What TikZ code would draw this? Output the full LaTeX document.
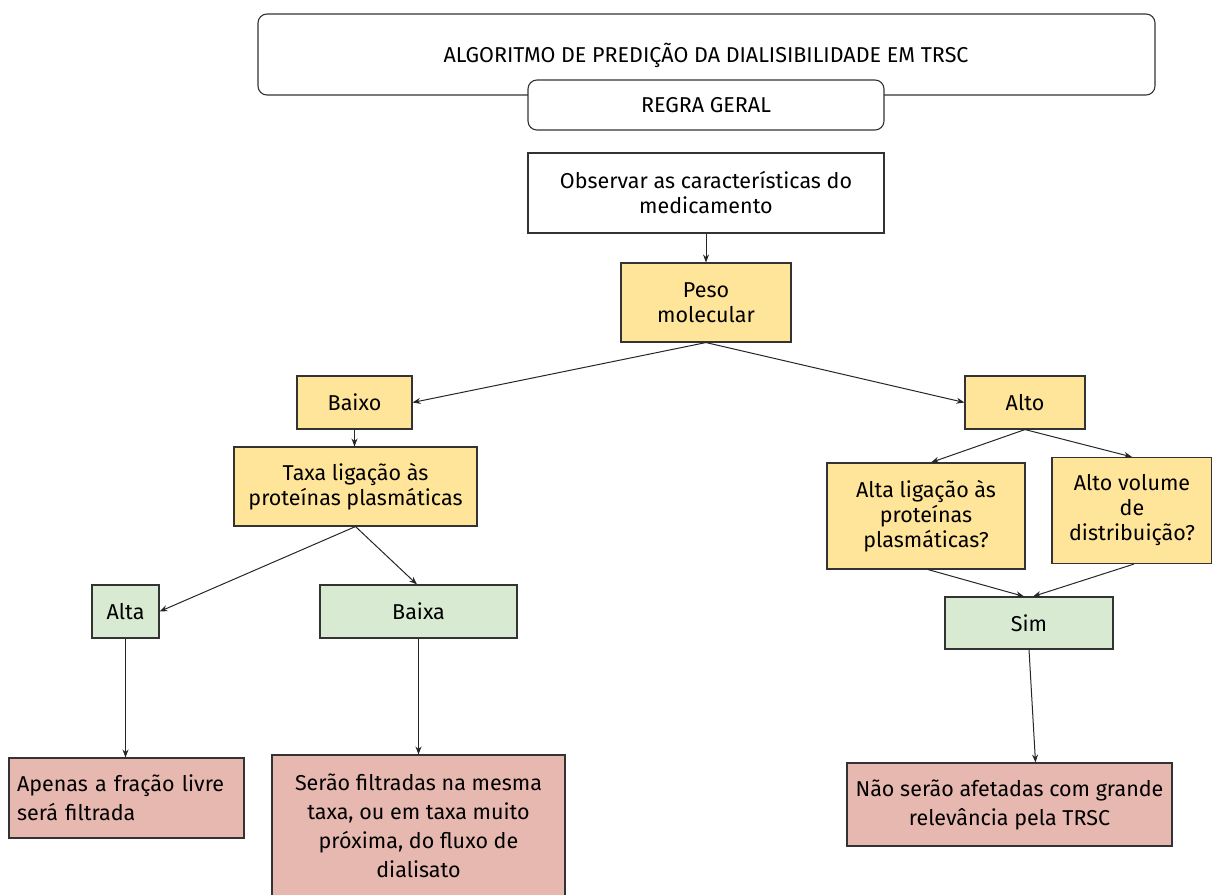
\documentclass[tikz,border=0pt]{standalone}
\usepackage{fontspec}
\setmainfont{Fira Sans}
\usetikzlibrary{arrows.meta}
\definecolor{yel}{HTML}{FFE599}
\definecolor{grn}{HTML}{D9EAD3}
\definecolor{rd}{HTML}{E6B8AF}
\definecolor{edge}{HTML}{333333}
\tikzset{
  box/.style={draw=edge, line width=1.1pt, inner sep=0pt, align=center,
    font=\fontsize{21.5}{25}\selectfont},
  ybox/.style={box, fill=yel},
  gbox/.style={box, fill=grn},
  rbox/.style={box, fill=rd, font=\fontsize{21.5}{29}\selectfont},
  rnd/.style={box, rounded corners=9pt, fill=white, font=\fontsize{21.5}{25}\selectfont},
  arr/.style={draw=black!85, line width=1pt, -{Stealth[length=8pt,width=6pt]}}
}
\begin{document}
\begin{tikzpicture}[x=1pt,y=-1pt]
\useasboundingbox (0,0) rectangle (1212,894);
% title
\node[rnd, minimum width=897pt, minimum height=81pt] (title) at (706.5,54.5) {};
\node[font=\fontsize{21.5}{25}\selectfont, inner sep=0pt] (titletext) at (706,55) {ALGORITMO DE PREDIÇÃO DA DIALISIBILIDADE EM TRSC};
\node[rnd, minimum width=356pt, minimum height=50pt] (regra) at (706,105) {REGRA GERAL};
% main
\node[box, fill=white, minimum width=356pt, minimum height=80pt] (obs) at (706,193) {Observar as características do\\medicamento};
\node[ybox, minimum width=170pt, minimum height=79pt] (peso) at (706,302.5) {Peso\\molecular};
\node[ybox, minimum width=115pt, minimum height=53pt] (baixo) at (354.5,402.5) {Baixo};
\node[ybox, minimum width=120pt, minimum height=53pt] (alto) at (1025,402.5) {Alto};
\node[ybox, minimum width=243pt, minimum height=79pt] (taxa) at (355.5,486.5) {Taxa ligação às\\proteínas plasmáticas};
\node[ybox, minimum width=198pt, minimum height=106pt] (altalig) at (926,516) {Alta ligação às\\proteínas\\plasmáticas?};
\node[ybox, minimum width=160pt, minimum height=106pt] (altovol) at (1132,510.5) {Alto volume\\de\\distribuição?};
\node[gbox, minimum width=67pt, minimum height=53pt] (alta) at (125.5,611.5) {Alta};
\node[gbox, minimum width=197pt, minimum height=53pt] (baixa) at (418.5,611.5) {Baixa};
\node[gbox, minimum width=168pt, minimum height=52pt] (sim) at (1029,623) {Sim};
\node[rbox, minimum width=235pt, minimum height=80pt, align=left, text width=219pt] (apenas) at (126.5,798) {Apenas a fração livre\\será filtrada};
\node[rbox, minimum width=293pt, minimum height=142pt] (serao) at (418.5,826) {Serão filtradas na mesma\\taxa, ou em taxa muito\\próxima, do fluxo de\\dialisato};
\node[rbox, minimum width=325pt, minimum height=83pt] (nao) at (1009.5,804.5) {Não serão afetadas com grande\\relevância pela TRSC};
% connectors
\draw[arr] (obs.south) -- (peso.north);
\draw[arr] (peso.south) -- (baixo.east);
\draw[arr] (peso.south) -- (alto.west);
\draw[arr] (baixo.south) -- (taxa.north -| baixo.south);
\draw[arr] (taxa.south) -- (alta.east);
\draw[arr] (taxa.south) -- ([xshift=-1.5pt]baixa.north);
\draw[arr] (alto.south) -- ([xshift=5pt]altalig.north);
\draw[arr] (alto.south) -- (altovol.north);
\draw[arr] ([xshift=2pt]altalig.south) -- ([xshift=-5pt]sim.north);
\draw[arr] ([xshift=2pt]altovol.south) -- ([xshift=4pt]sim.north);
\draw[arr] (alta.south) -- (apenas.north -| alta.south);
\draw[arr] (baixa.south) -- (serao.north -| baixa.south);
\draw[arr] (sim.south) -- ([xshift=26pt]nao.north);
\end{tikzpicture}
\end{document}
